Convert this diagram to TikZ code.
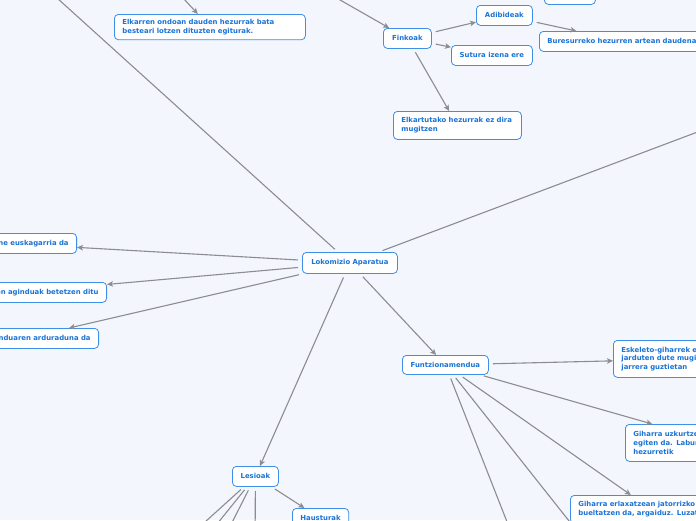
\documentclass[tikz,border=0pt]{standalone}
\usepackage{fontspec}
\setmainfont{DejaVu Sans}
\usepackage{tikz}
\usetikzlibrary{arrows.meta,positioning,calc}
\definecolor{paper}{HTML}{F3F6FD}
\definecolor{edgeblue}{HTML}{3D8FE8}
\definecolor{inkblue}{HTML}{1A73D6}
\definecolor{wire}{HTML}{8C8C91}
\tikzset{
  >={Stealth[length=6pt,width=5.5pt,inset=1.5pt]},
  topic/.style={draw=edgeblue,fill=white,rounded corners=4pt,line width=.8pt,text=inkblue,
    font=\bfseries\fontsize{6.9}{8.6}\selectfont,inner xsep=8pt,inner ysep=5pt,minimum height=20pt},
  topicl/.style={topic,anchor=north west,align=left},
  topicr/.style={topic,anchor=north east,align=right},
  link/.style={->,line width=1.1pt,color=wire,shorten <=4pt},
}

\begin{document}
\begin{tikzpicture}[x=1pt,y=-1pt]
  \fill[paper] (0,0) rectangle (696,520);
  \useasboundingbox (0,0) rectangle (696,520);
  \clip (0,0) rectangle (696,520);
  % root
  \node[topicl,minimum width=95pt,minimum height=21pt,align=center] (lok) at (302,252) {Lokomizio Aparatua};
  % upper branch
  \node[topicl,text width=175pt] (elkarren) at (114,14) {Elkarren ondoan dauden hezurrak bata\\besteari lotzen dituzten egiturak.};
  \node[topicl,minimum width=48pt,align=center] (finkoak) at (383,28) {Finkoak};
  \node[topicl,minimum width=56pt,align=center] (adibideak) at (476,5) {Adibideak};
  \node[topicl,minimum width=51pt] (goian) at (544,-16) {};
  \node[topicl,text width=154pt] (buresurreko) at (539,31) {Buresurreko hezurren artean daudenak};
  \node[topicl,minimum width=81pt,align=center] (sutura) at (451,45) {Sutura izena ere};
  \node[topicl,text width=112pt,minimum height=28pt] (elkartutako) at (393,111) {Elkartutako hezurrak ez dira\\mugitzen};
  % left branch
  \node[topicr,text width=124pt] (euskag) at (77,233) {ne euskagarria da};
  \node[topicr,text width=164pt] (aginduak) at (107,282) {en aginduak betetzen ditu};
  \node[topicr,text width=133pt] (arduraduna) at (99,328) {nduaren arduraduna da};
  % funtzionamendua
  \node[topicl,minimum width=86pt,minimum height=19pt,align=center] (funtz) at (402,355) {Funtzionamendua};
  \node[topicl,text width=144pt,minimum height=37pt] (eskeleto) at (613,340) {Eskeleto-giharrek e\\jarduten dute mugi\\jarrera guztietan};
  \node[topicl,text width=170pt,minimum height=37pt] (uzkurtze) at (625,424) {Giharra uzkurtze\\egiten da. Labur\\hezurretik};
  \node[topicl,text width=146pt,minimum height=28pt] (erlaxatzean) at (570,495) {Giharra erlaxatzean jatorrizko\\bueltatzen da, argaiduz. Luzat};
  % lesioak
  \node[topicl,minimum width=46pt,align=center] (lesioak) at (232,466) {Lesioak};
  \node[topicl,minimum width=56pt,align=center] (hausturak) at (292,508) {Hausturak};
  % ends outside the frame
  \coordinate (upleft) at (15,-40);
  \coordinate (upright) at (740,116);
  \coordinate (artikA) at (146,-42);
  \coordinate (artikB) at (270,-40);
  \coordinate (les1) at (163,560);
  \coordinate (les2) at (188,560);
  \coordinate (les3) at (213,560);
  \coordinate (les4) at (255,560);
  \coordinate (fun1) at (522,560);
  \coordinate (fun2) at (600,560);
  % connectors
  \draw[link] (lok) -- (upleft);
  \draw[link] (lok) -- (upright);
  \draw[link] (artikA) -- (elkarren);
  \draw[link] (artikB) -- (finkoak);
  \draw[link] (finkoak) -- (adibideak);
  \draw[link] (finkoak) -- (sutura);
  \draw[link] (finkoak) -- (elkartutako);
  \draw[link] (adibideak) -- (buresurreko);
  \draw[link] (lok) -- (euskag);
  \draw[link] (lok) -- (aginduak);
  \draw[link] (lok) -- (arduraduna);
  \draw[link] (lok) -- (funtz);
  \draw[link] (lok) -- (lesioak);
  \draw[link] (funtz) -- (eskeleto);
  \draw[link] (funtz) -- (uzkurtze);
  \draw[link] (funtz) -- (erlaxatzean);
  \draw[link] (funtz) -- (fun1);
  \draw[link] (funtz) -- (fun2);
  \draw[link] (lesioak) -- (hausturak);
  \foreach \e in {les1,les2,les3,les4}
    \draw[link] (lesioak) -- (\e);
\end{tikzpicture}
\end{document}
